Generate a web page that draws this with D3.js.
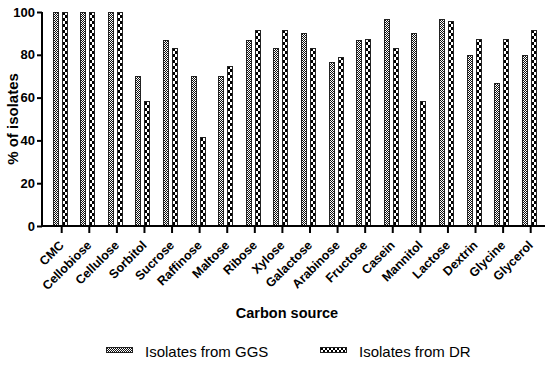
<!DOCTYPE html>
<html>
<head>
<meta charset="utf-8">
<script src="https://cdn.jsdelivr.net/npm/d3@7"></script>
<style>
  body { margin: 0; background: #fff; }
  svg text { font-family: "Liberation Sans", Arial, sans-serif; }
</style>
</head>
<body>
<svg id="chart" width="550" height="370"></svg>
<script>
const categories = ["CMC", "Cellobiose", "Cellulose", "Sorbitol", "Sucrose", "Raffinose",
  "Maltose", "Ribose", "Xylose", "Galactose", "Arabinose", "Fructose", "Casein",
  "Mannitol", "Lactose", "Dextrin", "Glycine", "Glycerol"];
const ggsValues = [100, 100, 100, 70, 86.7, 70, 70, 86.7, 83.3, 90, 76.7, 86.7, 96.7, 90, 96.7, 80, 66.7, 80];
const drValues = [100, 100, 100, 58.3, 83.3, 41.7, 75, 91.7, 91.7, 83.3, 79.2, 87.5, 83.3, 58.3, 95.8, 87.5, 87.5, 91.7];
const seriesNames = ["Isolates from GGS", "Isolates from DR"];
const yTicks = [0, 20, 40, 60, 80, 100];

const svg = d3.select("#chart");

// fill patterns: fine checker for GGS, coarse checker for DR
const defs = svg.append("defs");
const p1 = defs.append("pattern").attr("id", "pGGS")
  .attr("patternUnits", "userSpaceOnUse").attr("width", 2).attr("height", 2);
p1.append("rect").attr("width", 2).attr("height", 2).attr("fill", "#fff");
p1.append("rect").attr("width", 1).attr("height", 1).attr("fill", "#111");
p1.append("rect").attr("x", 1).attr("y", 1).attr("width", 1).attr("height", 1).attr("fill", "#111");

const p2 = defs.append("pattern").attr("id", "pDR")
  .attr("patternUnits", "userSpaceOnUse").attr("width", 4).attr("height", 6);
p2.append("rect").attr("width", 4).attr("height", 6).attr("fill", "#fff");
p2.append("rect").attr("x", 1).attr("width", 2).attr("height", 3).attr("fill", "#000");
p2.append("rect").attr("x", 3).attr("y", 3).attr("width", 2).attr("height", 3).attr("fill", "#000");
p2.append("rect").attr("x", -1).attr("y", 3).attr("width", 2).attr("height", 3).attr("fill", "#000");

const x = d3.scaleBand().domain(categories).range([47.9, 544.5]);
const xSub = d3.scaleBand().domain(seriesNames).range([-9, 5]).paddingInner(0.444);
const y = d3.scaleLinear().domain([0, 100]).range([226, 12]);
const center = d => Math.round(x(d) + x.bandwidth() / 2);

const rows = categories.map((c, i) => ({ cat: c, vals: [ggsValues[i], drValues[i]] }));
const fills = ["url(#pGGS)", "url(#pDR)"];

// bars
const grp = svg.append("g").selectAll("g")
  .data(rows).enter().append("g")
  .attr("transform", d => `translate(${center(d.cat)},0)`);

grp.selectAll("rect")
  .data(d => d.vals.map((v, j) => ({ v, s: seriesNames[j], j })))
  .enter().append("rect")
  .attr("x", d => Math.round(xSub(d.s)) + 0.5)
  .attr("width", Math.round(xSub.bandwidth()))
  .attr("y", d => Math.round(y(d.v)) + 0.5)
  .attr("height", d => y(0) - Math.round(y(d.v)) - 0.5)
  .attr("fill", d => fills[d.j])
  .attr("stroke", "#222")
  .attr("stroke-width", 1);

// y axis
const yAxis = svg.append("g").attr("transform", "translate(42,0)")
  .call(d3.axisLeft(y).tickValues(yTicks).tickSize(5).tickPadding(2));
yAxis.select(".domain").attr("stroke-width", 2).attr("d", `M0,${y(100)}V${y(0)}`);
yAxis.selectAll(".tick line").attr("stroke-width", 2);
yAxis.selectAll("text").attr("font-size", 13).attr("font-weight", "bold").attr("fill", "#000");

// x axis
const xAxis = svg.append("g").attr("transform", `translate(0,${y(0)})`)
  .call(d3.axisBottom(x).tickSize(7).tickSizeOuter(0));
xAxis.select(".domain").attr("stroke-width", 2).attr("d", "M41,0H545");
xAxis.selectAll(".tick line").attr("stroke-width", 2);
xAxis.selectAll("text")
  .attr("font-size", 12.5).attr("font-weight", "bold").attr("fill", "#000")
  .attr("text-anchor", "end")
  .attr("dy", 0).attr("y", 0)
  .attr("transform", "translate(3,20) rotate(-45)");

// axis titles
svg.append("text").attr("x", 287).attr("y", 318)
  .attr("text-anchor", "middle").attr("font-size", 14.5).attr("font-weight", "bold")
  .text("Carbon source");
svg.append("text")
  .attr("transform", `translate(18,${y(50)}) rotate(-90)`)
  .attr("text-anchor", "middle").attr("font-size", 15).attr("font-weight", "bold")
  .text("% of isolates");

// legend
const legendX = [106, 320];
const legend = svg.append("g").selectAll("g")
  .data(seriesNames).enter().append("g")
  .attr("transform", (d, i) => `translate(${legendX[i]},347)`);
legend.append("rect")
  .attr("x", 0.5).attr("y", 0.5)
  .attr("width", 26).attr("height", 5)
  .attr("fill", (d, i) => fills[i]).attr("stroke", "#222");
legend.append("text").attr("x", 39).attr("y", 10)
  .attr("font-size", 15).text(d => d);
</script>
</body>
</html>
